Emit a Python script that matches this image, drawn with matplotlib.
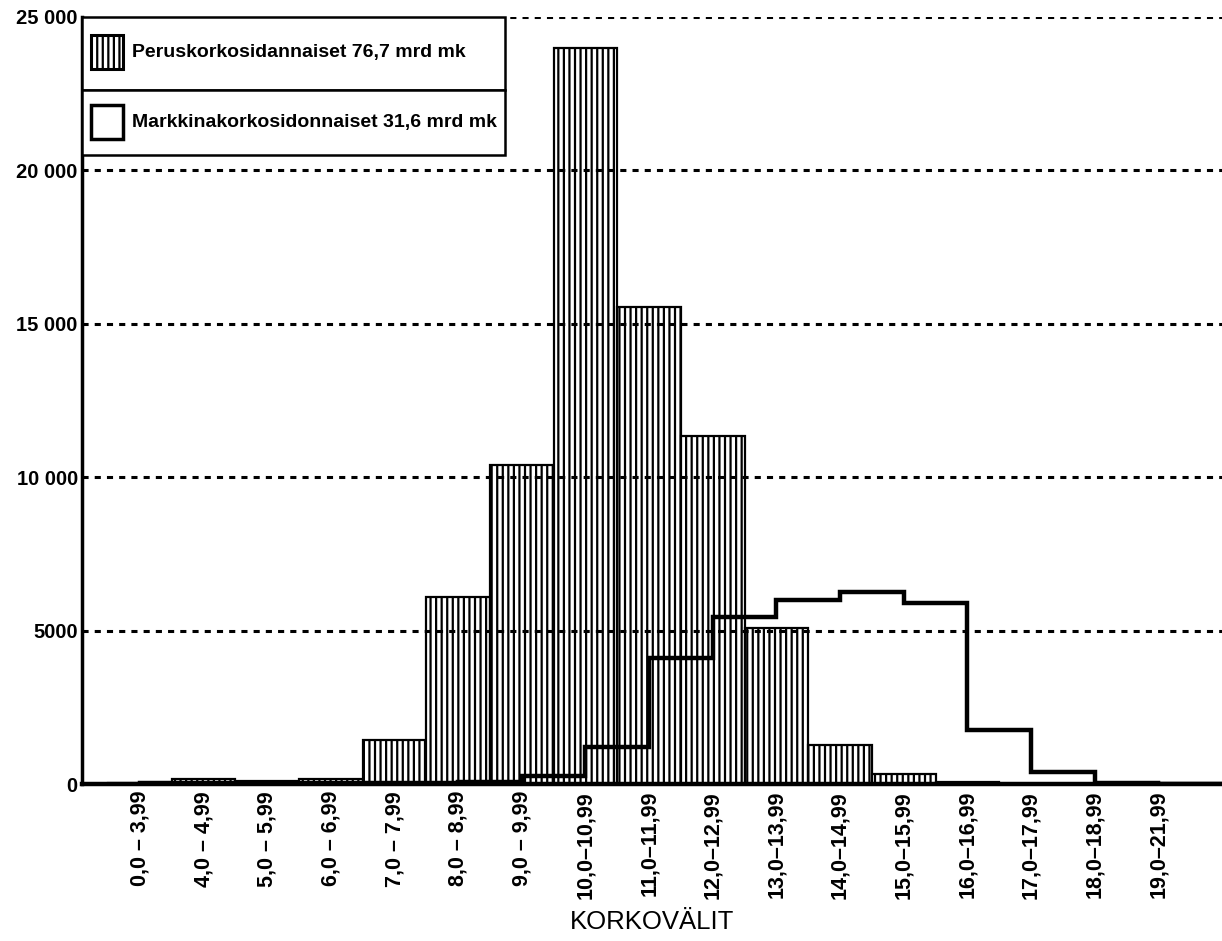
import numpy as np
import matplotlib.pyplot as plt
from matplotlib.patches import Rectangle

plt.rcParams['font.family'] = ['Liberation Sans', 'DejaVu Sans']
plt.rcParams['hatch.linewidth'] = 1.6

# interest-rate bands (x axis)
categories = ["0,0 – 3,99", "4,0 – 4,99", "5,0 – 5,99", "6,0 – 6,99",
              "7,0 – 7,99", "8,0 – 8,99", "9,0 – 9,99", "10,0–10,99",
              "11,0–11,99", "12,0–12,99", "13,0–13,99", "14,0–14,99",
              "15,0–15,99", "16,0–16,99", "17,0–17,99", "18,0–18,99",
              "19,0–21,99"]
# prime-rate linked loans (hatched bars)
perus = [30, 180, 90, 150, 1430, 6100, 10400, 24000, 15550, 11350,
         5100, 1270, 330, 80, 0, 0, 0]
# market-rate linked loans (step line)
markkina = [30, 20, 20, 30, 40, 60, 250, 1200, 4100, 5450,
            6000, 6250, 5900, 1750, 400, 50, 0]

yticks = [0, 5000, 10000, 15000, 20000, 25000]
ytick_labels = ["0", "5000", "10 000", "15 000", "20 000", "25 000"]

legend_labels = ["Peruskorkosidannaiset 76,7 mrd mk",
                 "Markkinakorkosidonnaiset 31,6 mrd mk"]

fig = plt.figure(figsize=(12.22, 9.41), dpi=100)
ax = fig.add_axes([0.0671, 0.1668, 0.9329, 0.8152])

x = np.arange(len(categories))
ax.bar(x, perus, width=1.0, color='white', edgecolor='black',
       linewidth=1.6, hatch='|||', zorder=1)
ax.stairs(markkina, np.arange(len(markkina) + 1), color='black',
          linewidth=3.2, zorder=3)

ax.set_xlim(-0.91, 17.0)
ax.set_ylim(0, 25000)

ax.set_yticks(yticks)
ax.set_yticklabels(ytick_labels, fontsize=14.5, fontweight='bold')
ax.set_xticks(x)
ax.set_xticklabels(categories, rotation=90, fontsize=15.5, fontweight='bold')
ax.tick_params(axis='both', length=0, pad=5)
ax.tick_params(axis='y', pad=3)
ax.set_xlabel("KORKOVÄLIT", fontsize=18.5, va='center')
ax.xaxis.set_label_coords(0.5, -0.18)

# dotted grid drawn over the bars
ax.yaxis.grid(True, linestyle=(0, (2, 2)), linewidth=2.2, color='black')
ax.set_axisbelow(False)

for side in ['top', 'right']:
    ax.spines[side].set_visible(False)
ax.spines['left'].set_linewidth(2.5)
ax.spines['bottom'].set_linewidth(3.2)

# legend box with divider between the two entries
fig.patches.append(Rectangle((0.0671, 0.9044), 0.3462, 0.0776, transform=fig.transFigure,
                             facecolor='white', edgecolor='black', linewidth=1.8, zorder=5))
fig.patches.append(Rectangle((0.0671, 0.8353), 0.3462, 0.0691, transform=fig.transFigure,
                             facecolor='white', edgecolor='black', linewidth=1.8, zorder=5))
fig.patches.append(Rectangle((0.0745, 0.9266), 0.0262, 0.0362, transform=fig.transFigure,
                             facecolor='white', edgecolor='black', linewidth=2.2,
                             hatch='|||', zorder=6))
fig.patches.append(Rectangle((0.0745, 0.8522), 0.0262, 0.0362, transform=fig.transFigure,
                             facecolor='white', edgecolor='black', linewidth=2.5, zorder=6))
fig.text(0.108, 0.9447, legend_labels[0], fontsize=14, fontweight='bold',
         va='center', ha='left', zorder=7)
fig.text(0.108, 0.8703, legend_labels[1], fontsize=14, fontweight='bold',
         va='center', ha='left', zorder=7)

plt.savefig('out.png', dpi=100)
